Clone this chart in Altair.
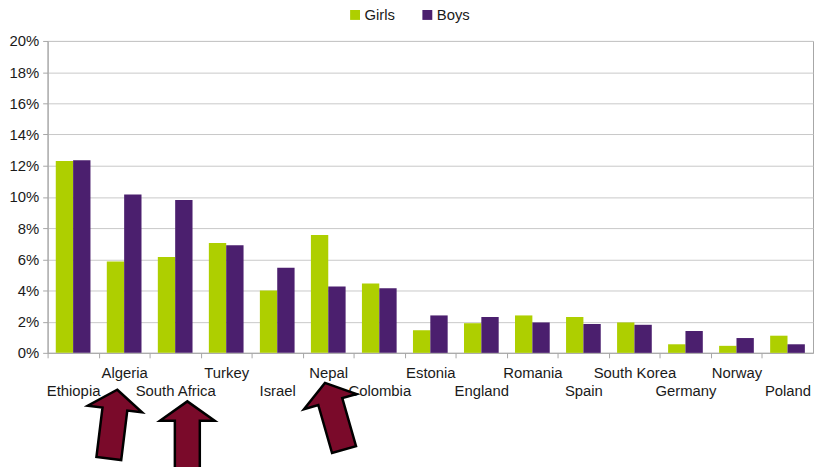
import altair as alt
import pandas as pd

countries = ["Ethiopia", "Algeria", "South Africa", "Turkey", "Israel", "Nepal",
             "Colombia", "Estonia", "England", "Romania", "Spain", "South Korea",
             "Germany", "Norway", "Poland"]
girls = [12.3, 5.85, 6.15, 7.05, 4.0, 7.55, 4.45, 1.45, 1.9, 2.4, 2.3, 1.95, 0.55, 0.45, 1.1]
boys = [12.35, 10.15, 9.8, 6.9, 5.45, 4.25, 4.15, 2.4, 2.3, 1.95, 1.85, 1.8, 1.4, 0.95, 0.55]
series = ["Girls", "Boys"]
colors = ["#AECF00", "#4B1F6E"]
y_ticks = [0, 2, 4, 6, 8, 10, 12, 14, 16, 18, 20]
arrow_targets = ["Algeria", "South Africa", "Nepal"]

rows = []
for i, c in enumerate(countries):
    rows.append({"country": c, "series": "Girls", "value": girls[i] / 100})
    rows.append({"country": c, "series": "Boys", "value": boys[i] / 100})
df = pd.DataFrame(rows)

FONT = "Liberation Sans"
lower = countries[::2]
lower_test = "indexof([" + ",".join("'" + c + "'" for c in lower) + "], datum.value) >= 0"

bars = alt.Chart(df).mark_bar().encode(
    x=alt.X("country:N", sort=countries,
            scale=alt.Scale(paddingInner=0.32, paddingOuter=0.16),
            axis=alt.Axis(title=None, labelAngle=0, bandPosition=0, tickOffset=-8.24,
                          labelOffset=8.24,
                          labelFont=FONT, labelFontSize=15, labelColor="#1a1a1a",
                          labelPadding={"condition": {"test": lower_test, "value": 26}, "value": 8},
                          tickSize=5, tickColor="#a6a6a6", domainColor="#a6a6a6",
                          labelOverlap=False, labelBound=False, labelFlush=False, grid=False)),
    xOffset=alt.XOffset("series:N", sort=series, scale=alt.Scale(domain=series)),
    y=alt.Y("value:Q", scale=alt.Scale(domain=[0, 0.2], nice=False),
            axis=alt.Axis(title=None, format=".0%", values=[v / 100 for v in y_ticks],
                          labelFont=FONT, labelFontSize=15, labelColor="#1a1a1a",
                          labelPadding=4, tickSize=5, tickColor="#a6a6a6",
                          domainColor="#a6a6a6", gridColor="#c8c8c8")),
    color=alt.Color("series:N", sort=series,
                    scale=alt.Scale(domain=series, range=colors),
                    legend=alt.Legend(title=None, orient="none", legendX=303, legendY=-34,
                                      direction="horizontal", symbolType="square",
                                      symbolSize=100, symbolStrokeWidth=0,
                                      labelFont=FONT, labelFontSize=15, labelColor="#1a1a1a",
                                      labelOffset=2, columnPadding=25, padding=0)),
)

arrow_path = "M0,-1 L0.79,-0.44 L0.36,-0.44 L0.36,1 L-0.36,1 L-0.36,-0.44 L-0.79,-0.44 Z"
arrow_style = [
    {"dx": 6.3, "y": 426, "angle": 7},
    {"dx": 29.8, "y": 438, "angle": 0},
    {"dx": 23.8, "y": 418, "angle": 344},
]
layers = [bars]
for name, st in zip(arrow_targets, arrow_style):
    a = alt.Chart(pd.DataFrame({"country": [name]})).mark_point(
        shape=arrow_path, size=4900, filled=True, fill="#7A0A2A", stroke="#000000",
        strokeWidth=2.5, opacity=1, angle=st["angle"]
    ).encode(
        x=alt.X("country:N", sort=countries),
        xOffset=alt.value(st["dx"]),
        y=alt.value(st["y"] - 39),
    )
    layers.append(a)

chart = alt.layer(*layers).properties(
    width=773, height=315,
    autosize=alt.AutoSizeParams(type="none"),
    padding={"left": 40, "top": 31, "right": 2, "bottom": 113},
).configure_view(stroke="#a6a6a6", strokeWidth=1)

chart.save("out.html", embed_options={"renderer": "svg", "actions": False})
